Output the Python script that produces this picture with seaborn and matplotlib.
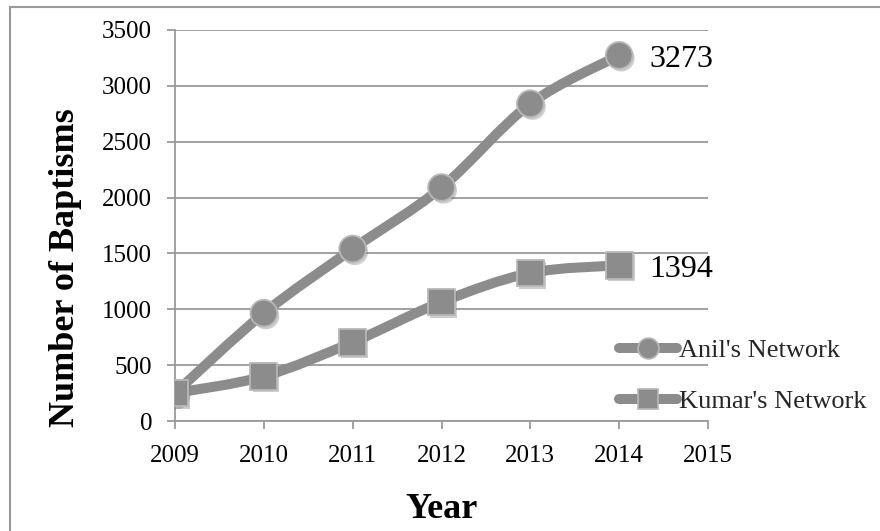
import numpy as np
import pandas as pd
import matplotlib
matplotlib.use("Agg")
import matplotlib.pyplot as plt
import seaborn as sns
from matplotlib.path import Path
from matplotlib.patches import PathPatch, Rectangle
from matplotlib.lines import Line2D
import matplotlib.patheffects as pe

# Baptisms per year for the two church-planting networks
years = [2009, 2010, 2011, 2012, 2013, 2014]
anil = [250, 965, 1540, 2090, 2840, 3273]
kumar = [250, 400, 705, 1065, 1325, 1394]
series_names = ["Anil's Network", "Kumar's Network"]
x_ticks = [2009, 2010, 2011, 2012, 2013, 2014, 2015]
y_ticks = [0, 500, 1000, 1500, 2000, 2500, 3000, 3500]

LINE = "#8c8c8c"
EDGE = "#b8b8b8"
GRID = "#9a9a9a"

sns.set_theme(style="white")
plt.rcParams["font.family"] = ["Liberation Serif", "DejaVu Serif"]

df = pd.DataFrame({
    "Year": years * 2,
    "Baptisms": anil + kumar,
    "Network": [series_names[0]] * len(years) + [series_names[1]] * len(years),
})

fig = plt.figure(figsize=(8.8, 5.31), dpi=100)
ax = fig.add_axes([175 / 880, 1 - 421 / 531, 533 / 880, 391 / 531])


def smooth_path(xs, ys):
    """Cubic Bezier path through the points (Catmull-Rom style smoothing)."""
    pts = np.column_stack([xs, ys]).astype(float)
    n = len(pts)
    verts = [pts[0]]
    codes = [Path.MOVETO]
    for i in range(n - 1):
        p0 = pts[i - 1] if i > 0 else pts[i]
        p1, p2 = pts[i], pts[i + 1]
        p3 = pts[i + 2] if i + 2 < n else pts[i + 1]
        verts += [p1 + (p2 - p0) / 6, p2 - (p3 - p1) / 6, p2]
        codes += [Path.CURVE4] * 3
    return Path(verts, codes)


for vals in (anil, kumar):
    ax.add_patch(PathPatch(smooth_path(years, vals), fill=False, edgecolor=LINE,
                           lw=7.2, capstyle="round", joinstyle="round", zorder=3))

sns.scatterplot(data=df, x="Year", y="Baptisms", style="Network",
                markers={series_names[0]: "o", series_names[1]: "s"},
                s=370, color=LINE, edgecolor=EDGE, linewidth=1.3,
                legend=False, ax=ax, zorder=4)
for coll in ax.collections:
    coll.set_path_effects([pe.SimplePatchShadow(offset=(1.5, -2), shadow_rgbFace="0.45", alpha=0.35),
                           pe.Normal()])

# value labels at the last year
for vals in (anil, kumar):
    ax.annotate(str(vals[-1]), xy=(years[-1], vals[-1]), xytext=(21.5, -3),
                textcoords="offset points", ha="left", va="center",
                fontsize=23, color="black", annotation_clip=False)

ax.set_xlim(x_ticks[0], x_ticks[-1])
ax.set_ylim(y_ticks[0], y_ticks[-1])
ax.set_xticks(x_ticks)
ax.set_yticks(y_ticks)
ax.set_xticklabels([str(t) for t in x_ticks])
ax.set_yticklabels([str(t) for t in y_ticks])

ax.yaxis.grid(True, color=GRID, lw=1.3)
ax.xaxis.grid(False)
ax.set_axisbelow(True)
for side in ("top", "right"):
    ax.spines[side].set_visible(False)
for side in ("left", "bottom"):
    ax.spines[side].set_color(GRID)
    ax.spines[side].set_linewidth(1.3)

ax.tick_params(axis="both", which="major", direction="out", length=5.5, width=1.3,
               color=GRID, labelsize=18, labelcolor="black", left=True, bottom=True)
ax.tick_params(axis="y", pad=11)
ax.tick_params(axis="x", pad=12)

ax.set_xlabel("Year", fontsize=26, fontweight="bold", color="black")
ax.xaxis.label.set_va("center")
ax.xaxis.set_label_coords(0.5, (421 - 510) / 391)
ax.set_ylabel("Number of Baptisms", fontsize=26, fontweight="bold", color="black")
ax.yaxis.label.set_va("center")
ax.yaxis.set_label_coords((66 - 175) / 533, (421 - 268) / 391)

handles = [
    Line2D([], [], color=LINE, lw=7.2, solid_capstyle="round", marker="o",
           markersize=15, markerfacecolor=LINE, markeredgecolor=EDGE, markeredgewidth=1.2),
    Line2D([], [], color=LINE, lw=7.2, solid_capstyle="round", marker="s",
           markersize=15, markerfacecolor=LINE, markeredgecolor=EDGE, markeredgewidth=1.2),
]
leg = fig.legend(handles, series_names, loc="center left",
                 bbox_to_anchor=(619 / 880, 1 - 376 / 531), frameon=False,
                 fontsize=19, handlelength=2.2, handletextpad=0.08,
                 labelspacing=1.05, borderpad=0, borderaxespad=0)
leg.set_zorder(6)

# outer frame of the chart
fig.patches.append(Rectangle((10 / 880, -0.1), 1.2, 1.1 - 7 / 531,
                             transform=fig.transFigure, fill=False,
                             edgecolor="#9a9a9a", lw=1.5, zorder=10))

fig.savefig("out.png", dpi=100)
